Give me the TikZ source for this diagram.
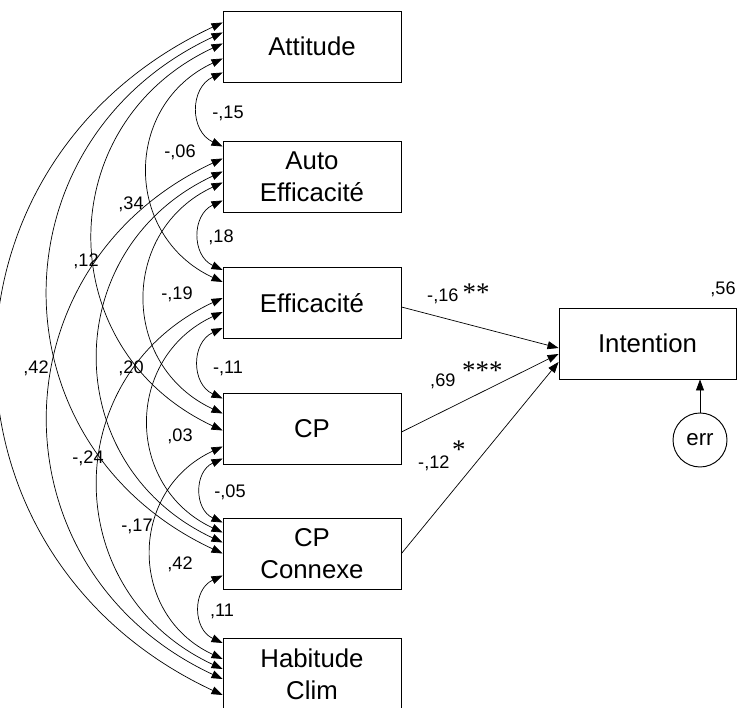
\documentclass[tikz,border=0pt]{standalone}
\usepackage{fontspec}
\setmainfont{Liberation Sans}
\newfontfamily\starfont{Liberation Serif}
\usetikzlibrary{arrows.meta,calc}
\tikzset{
  var/.style={draw, line width=0.8pt, minimum width=5.34cm, minimum height=2.13cm,
    align=center, font=\fontsize{22}{27.3}\selectfont},
  cov/.style={{Triangle[length=0.33cm,width=0.24cm]}-{Triangle[length=0.33cm,width=0.24cm]},
    line width=0.6pt, bend right=65, looseness=1.26},
  reg/.style={-{Triangle[length=0.33cm,width=0.24cm]}, line width=0.6pt},
  lbl/.style={font=\fontsize{15.5}{18}\selectfont, inner sep=0pt},
}
\newcommand{\stars}[3]{\hspace{#1}\raisebox{#2}{\starfont\fontsize{23}{23}\selectfont #3}}
\begin{document}
\begin{tikzpicture}[x=0.03cm, y=0.03cm]
\useasboundingbox (0,0) rectangle (739,707);
% predictors
\node[var] (att) at (312,660.5) {Attitude};
\node[var] (ae) at (312,530.5) {Auto\\Efficacité};
\node[var] (eff) at (312,404) {Efficacité};
\node[var] (cp) at (312,278.5) {CP};
\node[var] (cpc) at (312,153.5) {CP\\Connexe};
\node[var] (hab) at (312,33) {Habitude\\Clim};
% outcome
\node[var, minimum width=5.31cm] (int) at (647.5,363.5) {Intention};
\node[circle, draw, line width=0.8pt, minimum size=1.62cm, inner sep=0pt,
  font=\fontsize{19}{19}\selectfont] (err) at (700,267) {err};

% covariances
\draw[cov] ($(att.west)+(0,-26)$) to ($(ae.west)+(0,30)$);
\draw[cov] ($(att.west)+(0,-12)$) to ($(eff.west)+(0,21)$);
\draw[cov] ($(att.west)+(0,3)$) to ($(cp.west)+(0,-2)$);
\draw[cov] ($(att.west)+(0,14)$) to ($(cpc.west)+(0,0)$);
\draw[cov] ($(att.west)+(0,24)$) to ($(hab.west)+(0,-21)$);
\draw[cov] ($(ae.west)+(0,-24)$) to ($(eff.west)+(0,33)$);
\draw[cov] ($(ae.west)+(0,-6)$) to ($(cp.west)+(0,15)$);
\draw[cov] ($(ae.west)+(0,5)$) to ($(cpc.west)+(0,11)$);
\draw[cov] ($(ae.west)+(0,18)$) to ($(hab.west)+(0,-5)$);
\draw[cov] ($(eff.west)+(0,-25)$) to ($(cp.west)+(0,30)$);
\draw[cov] ($(eff.west)+(0,-9)$) to ($(cpc.west)+(0,21)$);
\draw[cov] ($(eff.west)+(0,5)$) to ($(hab.west)+(0,5)$);
\draw[cov] ($(cp.west)+(0,-30)$) to ($(cpc.west)+(0,31)$);
\draw[cov] ($(cp.west)+(0,-18)$) to ($(hab.west)+(0,15)$);
\draw[cov] ($(cpc.west)+(0,-22)$) to ($(hab.west)+(0,31)$);

\node[lbl] (c1) at (228,594) {-,15};
\node[lbl] (c2) at (180,555) {-,06};
\node[lbl] (c3) at (131,503) {,34};
\node[lbl] (c4) at (86,446) {,12};
\node[lbl] (c5) at (36,339) {,42};
\node[lbl] (c6) at (221,470) {,18};
\node[lbl] (c7) at (177,413) {-,19};
\node[lbl] (c8) at (131,339) {,20};
\node[lbl] (c9) at (88,249) {-,24};
\node[lbl] (c10) at (228,339) {-,11};
\node[lbl] (c11) at (180,271) {,03};
\node[lbl] (c12) at (137,181) {-,17};
\node[lbl] (c13) at (230,215) {-,05};
\node[lbl] (c14) at (180,143) {,42};
\node[lbl] (c15) at (222,96) {,11};

% paths
\draw[reg] ($(eff.east)+(0,-4)$) -- ($(int.west)+(0,-4.5)$);
\draw[reg] ($(cp.east)+(0,-3.5)$) -- ($(int.west)+(0,-10.5)$);
\draw[reg] (cpc.east) -- ($(int.west)+(0,-18.5)$);
\draw[reg] (err.north) -- (err.north |- int.south);

\node[lbl, anchor=base west] (p1) at (427,405) {-,16\stars{0.12cm}{0pt}{**}};
\node[lbl, anchor=base west] (p2) at (430,320) {,69\stars{0.2cm}{0.21cm}{***}};
\node[lbl, anchor=base west] (p3) at (418,238) {-,12\stars{0.08cm}{0.3cm}{*}};
\node[lbl] (r2) at (723,418) {,56};
\end{tikzpicture}
\end{document}
